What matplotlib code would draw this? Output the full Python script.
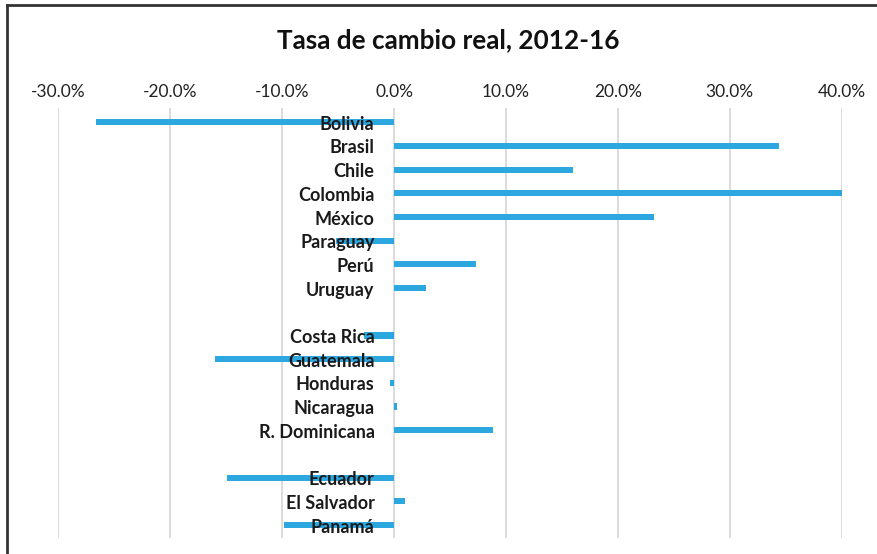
import matplotlib.pyplot as plt
from matplotlib.ticker import PercentFormatter, FixedLocator

# Real exchange rate change 2012-16 (%); None marks a blank separator row
countries = ["Bolivia", "Brasil", "Chile", "Colombia", "México", "Paraguay", "Perú", "Uruguay", "",
             "Costa Rica", "Guatemala", "Honduras", "Nicaragua", "R. Dominicana", "",
             "Ecuador", "El Salvador", "Panamá"]
values = [-26.6, 34.4, 16.0, 40.3, 23.2, -5.2, 7.3, 2.9, None,
          -2.7, -16.0, -0.4, 0.3, 8.8, None,
          -14.9, 1.0, -9.8]
ticks = [-30, -20, -10, 0, 10, 20, 30, 40]

plt.rcParams['font.family'] = ['Lato', 'DejaVu Sans']
plt.rcParams['axes.unicode_minus'] = False

fig = plt.figure(figsize=(8.78, 5.54), dpi=100)
W, H = 878, 554
ax = fig.add_axes([58.3 / W, 1 - 538 / H, (841.7 - 58.3) / W, (538 - 108) / H])

rows = [i for i, v in enumerate(values) if v is not None]
vals = [values[i] for i in rows]
ax.barh(rows, vals, height=0.26, color="#2CA7E0", zorder=3)

for i, name in enumerate(countries):
    if name:
        ax.annotate(name, xy=(0, i), xytext=(-14, -1.5), textcoords="offset points",
                    ha="right", va="center", fontsize=13, fontweight="bold",
                    color="#1a1a1a", zorder=4)

ax.set_xlim(-30, 40)
ax.set_ylim(17.55, -0.6)
ax.xaxis.set_major_locator(FixedLocator(ticks))
ax.xaxis.set_major_formatter(PercentFormatter(decimals=1))
ax.xaxis.tick_top()
ax.tick_params(axis="x", length=0, pad=6, labelsize=12.5, labelcolor="#222222")
ax.set_yticks([])
ax.grid(axis="x", color="#D9D9D9", linewidth=1.3, zorder=0)
for s in ax.spines.values():
    s.set_visible(False)

fig.text(448 / W, 1 - 40 / H, "Tasa de cambio real, 2012-16", ha="center", va="center",
         fontsize=18.8, fontweight="bold", color="#111111")

# chart border (left and top edges visible)
fig.add_artist(plt.Line2D([7 / W, 7 / W], [0, 1 - 5 / H], color="#333333", linewidth=2,
                          transform=fig.transFigure))
fig.add_artist(plt.Line2D([7 / W, 1], [1 - 5 / H, 1 - 5 / H], color="#333333", linewidth=2,
                          transform=fig.transFigure))

fig.savefig("out.png", dpi=100)
